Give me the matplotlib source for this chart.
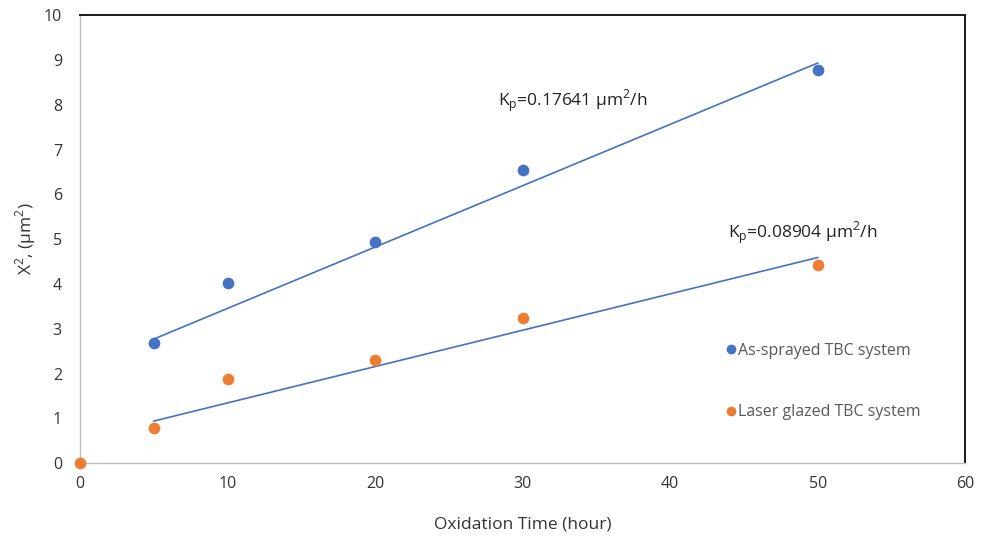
import matplotlib
matplotlib.use("Agg")
import matplotlib.pyplot as plt
from matplotlib.lines import Line2D

plt.rcParams["font.family"] = ["Open Sans", "DejaVu Sans"]
plt.rcParams["mathtext.fontset"] = "custom"
plt.rcParams["mathtext.rm"] = "Open Sans"

# oxidation time (h) and squared scale thickness (um^2)
hours_sprayed = [5, 10, 20, 30, 50]
x2_sprayed = [2.68, 4.03, 4.94, 6.55, 8.78]
hours_glazed = [0, 5, 10, 20, 30, 50]
x2_glazed = [0.0, 0.78, 1.88, 2.30, 3.24, 4.42]

# linear trend lines (end points)
trend_hours = [5, 50]
trend_sprayed = [2.77, 8.93]
trend_glazed = [0.94, 4.59]

kp_sprayed = "0.17641"
kp_glazed = "0.08904"

BLUE = "#4472C4"
ORANGE = "#ED7D31"

fig = plt.figure(figsize=(9.87, 5.38), dpi=100)
ax = fig.add_axes([0.081, 0.139, 0.897, 0.833])

ax.plot(trend_hours, trend_sprayed, color=BLUE, lw=1.2, zorder=2)
ax.plot(trend_hours, trend_glazed, color=BLUE, lw=1.2, zorder=2)
ax.scatter(hours_sprayed, x2_sprayed, s=55, color=BLUE, zorder=3, clip_on=False)
ax.scatter(hours_glazed, x2_glazed, s=55, color=ORANGE, zorder=3, clip_on=False)

ax.text(28.3, 8.1, r"K$_\mathregular{p}$=" + kp_sprayed + r" µm$^\mathregular{2}$/h",
        fontsize=12.5, color="#222222", va="center")
ax.text(43.9, 5.15, r"K$_\mathregular{p}$=" + kp_glazed + r" µm$^\mathregular{2}$/h",
        fontsize=12.5, color="#222222", va="center")

handles = [
    Line2D([], [], ls="none", marker="o", ms=6, color=BLUE),
    Line2D([], [], ls="none", marker="o", ms=6, color=ORANGE),
]
leg = ax.legend(handles, ["As-sprayed TBC system", "Laser glazed TBC system"],
                loc="upper left", bbox_to_anchor=(0.721, 0.283), frameon=False,
                fontsize=11.5, labelspacing=2.85, handletextpad=0.05,
                handlelength=0.8, borderaxespad=0)
for t in leg.get_texts():
    t.set_color("#595959")

ax.set_xlim(0, 60)
ax.set_ylim(0, 10)
ax.set_xticks(range(0, 61, 10))
ax.set_yticks(range(0, 11))
ax.tick_params(length=0, labelsize=11.5, labelcolor="#333333")
ax.tick_params(axis="y", pad=13)
ax.tick_params(axis="x", pad=9)

for side in ("left", "bottom"):
    ax.spines[side].set_color("#BFBFBF")
    ax.spines[side].set_linewidth(1.0)
for side in ("top", "right"):
    ax.spines[side].set_color("#1a1a1a")
    ax.spines[side].set_linewidth(1.4)

ax.set_xlabel("Oxidation Time (hour)", fontsize=12.5, color="#333333", labelpad=18)
ax.set_ylabel(r"X$^\mathregular{2}$, (µm$^\mathregular{2}$)", fontsize=12.5,
              color="#333333", labelpad=4)

fig.savefig("out.png", dpi=100)
